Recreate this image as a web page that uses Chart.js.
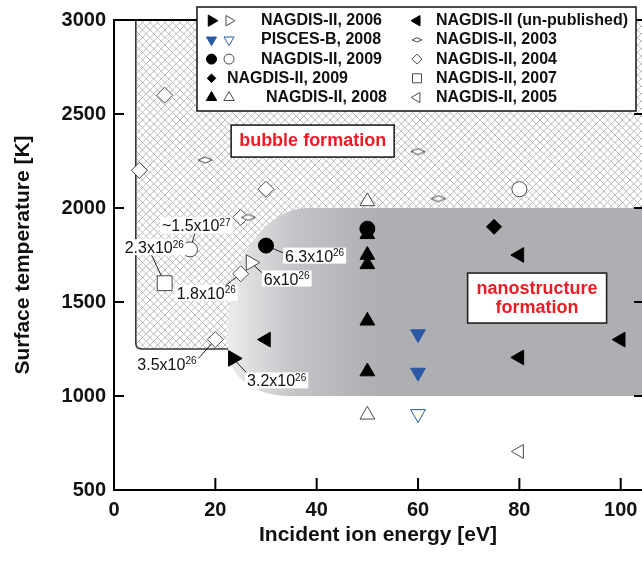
<!DOCTYPE html>
<html>
<head>
<meta charset="utf-8">
<script src="https://cdn.jsdelivr.net/npm/chart.js@4"></script>
<style>
  html, body { margin: 0; padding: 0; background: #fff; }
</style>
</head>
<body>
<canvas id="chart" width="642" height="563"></canvas>
<script>
const energyTicks = [0, 20, 40, 60, 80, 100];
const tempTicks = [500, 1000, 1500, 2000, 2500, 3000];

// NAGDIS-II, 2006
const n2006FilledE = [23.5];
const n2006FilledT = [1200];
const n2006OpenE = [27];
const n2006OpenT = [1710];
// PISCES-B, 2008
const piscesFilledE = [60, 60];
const piscesFilledT = [1330, 1125];
const piscesOpenE = [60];
const piscesOpenT = [905];
// NAGDIS-II, 2009 (circles)
const n2009FilledE = [30, 50];
const n2009FilledT = [1800, 1890];
const n2009OpenE = [15, 80];
const n2009OpenT = [1780, 2100];
// NAGDIS-II, 2009 (diamond)
const n2009DiaE = [75];
const n2009DiaT = [1900];
// NAGDIS-II, 2008
const n2008FilledE = [50, 50, 50, 50, 50];
const n2008FilledT = [1860, 1750, 1700, 1400, 1130];
const n2008OpenE = [50, 50];
const n2008OpenT = [2035, 900];
// NAGDIS-II (un-published)
const unpubE = [30, 80, 80, 100];
const unpubT = [1300, 1750, 1205, 1300];
// NAGDIS-II 2003 / 2004 / 2007 / 2005
const n2003E = [18, 60, 64, 26.5];
const n2003T = [2255, 2300, 2050, 1950];
const n2004E = [5, 10, 30, 25, 25, 20];
const n2004T = [2200, 2600, 2100, 1950, 1650, 1300];
const n2007E = [10];
const n2007T = [1600];
const n2005E = [80];
const n2005T = [705];

// ion flux notes next to some points
const fluxE = [15, 10, 30, 27, 25, 20, 23.5];
const fluxT = [1780, 1600, 1800, 1710, 1650, 1300, 1200];
const fluxMant = ['~1.5x10', '2.3x10', '6.3x10', '6x10', '1.8x10', '3.5x10', '3.2x10'];
const fluxExp = ['27', '26', '26', '26', '26', '26', '26'];

// regions (energy eV, temperature K)
const bubbleEdge = { e: 4.3, t: 1250 };
const nanoEdge = { e: 22.5, tLow: 1000, tHigh: 2000 };

const legendLabels = ['NAGDIS-II, 2006', 'PISCES-B, 2008', 'NAGDIS-II, 2009', 'NAGDIS-II, 2009', 'NAGDIS-II, 2008',
                      'NAGDIS-II (un-published)', 'NAGDIS-II, 2003', 'NAGDIS-II, 2004', 'NAGDIS-II, 2007', 'NAGDIS-II, 2005'];

// ---- layout / style ----
const FONT = '"Liberation Sans", Arial, Helvetica, sans-serif';
const BLUE = '#2b58a5';
const OPEN = '#4a4a4a';
const RED = '#ec1c24';

// label text offsets (px from point), leader end offsets
const fluxLayout = [
  { dx: -28, dy: -18, ax: 5, ay: -16 },
  { dx: -40, dy: -30, ax: -13, ay: -28 },
  { dx: 19, dy: 16, ax: 19, ay: 8 },
  { dx: 13, dy: 22, ax: 13, ay: 12 },
  { dx: -64, dy: 25, ax: -18, ay: 14 },
  { dx: -78, dy: 30, ax: -18, ay: 20 },
  { dx: 14, dy: 28, ax: 14, ay: 15 }
];

function pts(es, ts) { return es.map((e, i) => ({ x: e, y: ts[i] })); }

function flatDiamond() {
  const c = document.createElement('canvas');
  c.width = 16; c.height = 8;
  const g = c.getContext('2d');
  g.beginPath();
  g.moveTo(1, 4); g.lineTo(8, 1); g.lineTo(15, 4); g.lineTo(8, 7); g.closePath();
  g.fillStyle = '#fff'; g.fill();
  g.strokeStyle = OPEN; g.lineWidth = 1; g.stroke();
  return c;
}

function hatch(ctx) {
  const c = document.createElement('canvas');
  c.width = 15; c.height = 15;
  const g = c.getContext('2d');
  g.strokeStyle = '#b2b2b2';
  g.lineWidth = 0.9;
  for (const k of [-15, -7.5, 0, 7.5, 15]) {
    g.beginPath(); g.moveTo(k - 1, -1); g.lineTo(k + 16, 16); g.stroke();
    g.beginPath(); g.moveTo(k + 16, -1); g.lineTo(k - 1, 16); g.stroke();
  }
  return ctx.createPattern(c, 'repeat');
}

function marker(ctx, shape, x, y, r, fill, stroke) {
  ctx.beginPath();
  const tri = rot => {
    for (let i = 0; i < 3; i++) {
      const a = rot + i * 2 * Math.PI / 3;
      const px = x + Math.sin(a) * r, py = y - Math.cos(a) * r;
      if (i) ctx.lineTo(px, py); else ctx.moveTo(px, py);
    }
    ctx.closePath();
  };
  if (shape === 'up') tri(0);
  else if (shape === 'right') tri(Math.PI / 2);
  else if (shape === 'down') tri(Math.PI);
  else if (shape === 'left') tri(-Math.PI / 2);
  else if (shape === 'circle') ctx.arc(x, y, r, 0, 2 * Math.PI);
  else if (shape === 'diamond') { ctx.moveTo(x, y - r); ctx.lineTo(x + r, y); ctx.lineTo(x, y + r); ctx.lineTo(x - r, y); ctx.closePath(); }
  else if (shape === 'flat') { ctx.moveTo(x - r, y); ctx.lineTo(x, y - r * 0.45); ctx.lineTo(x + r, y); ctx.lineTo(x, y + r * 0.45); ctx.closePath(); }
  else if (shape === 'square') ctx.rect(x - r, y - r, 2 * r, 2 * r);
  if (fill) { ctx.fillStyle = fill; ctx.fill(); }
  if (stroke) { ctx.strokeStyle = stroke; ctx.lineWidth = 1; ctx.stroke(); }
}

function drawRegions(chart) {
  const { ctx, chartArea: a, scales: { x, y } } = chart;
  ctx.save();
  ctx.beginPath();
  ctx.rect(a.left, a.top, a.right - a.left, a.bottom - a.top);
  ctx.clip();

  // bubble formation: hatched
  const bx = x.getPixelForValue(bubbleEdge.e), by = y.getPixelForValue(bubbleEdge.t);
  const r = 6;
  ctx.beginPath();
  ctx.moveTo(bx, a.top);
  ctx.lineTo(bx, by - r);
  ctx.quadraticCurveTo(bx, by, bx + r, by);
  ctx.lineTo(a.right + 2, by);
  ctx.lineTo(a.right + 2, a.top);
  ctx.closePath();
  ctx.fillStyle = hatch(ctx);
  ctx.fill();
  ctx.beginPath();
  ctx.moveTo(bx, a.top);
  ctx.lineTo(bx, by - r);
  ctx.quadraticCurveTo(bx, by, bx + r, by);
  ctx.lineTo(a.right + 2, by);
  ctx.strokeStyle = '#333';
  ctx.lineWidth = 1.6;
  ctx.stroke();

  // nanostructure formation: grey with gradient
  const nl = x.getPixelForValue(nanoEdge.e);
  const nt = y.getPixelForValue(nanoEdge.tHigh);
  const nb = y.getPixelForValue(nanoEdge.tLow);
  const rx1 = 80, ry1 = 120, rx2 = 60, ry2 = 45;
  ctx.beginPath();
  ctx.moveTo(a.right + 2, nt);
  ctx.lineTo(nl + rx1, nt);
  ctx.ellipse(nl + rx1, nt + ry1, rx1, ry1, 0, -Math.PI / 2, -Math.PI, true);
  ctx.lineTo(nl, nb - ry2);
  ctx.ellipse(nl + rx2, nb - ry2, rx2, ry2, 0, Math.PI, Math.PI / 2, true);
  ctx.lineTo(a.right + 2, nb);
  ctx.closePath();
  const grad = ctx.createLinearGradient(nl, 0, x.getPixelForValue(52), 0);
  grad.addColorStop(0, '#ebebed');
  grad.addColorStop(0.45, '#c3c4c7');
  grad.addColorStop(1, '#adafb2');
  ctx.fillStyle = grad;
  ctx.fill();
  ctx.restore();
}

function drawLeaders(chart) {
  const { ctx, scales: { x, y } } = chart;
  ctx.save();
  ctx.strokeStyle = '#222';
  ctx.lineWidth = 1;
  fluxE.forEach((e, i) => {
    const px = x.getPixelForValue(e), py = y.getPixelForValue(fluxT[i]);
    const l = fluxLayout[i];
    ctx.beginPath();
    ctx.moveTo(px, py);
    ctx.lineTo(px + l.ax, py + l.ay);
    ctx.stroke();
  });
  ctx.restore();
}

function drawFrame(chart) {
  const { ctx, chartArea: a, scales: { x, y } } = chart;
  ctx.save();
  ctx.strokeStyle = '#000';
  ctx.lineWidth = 2;
  ctx.beginPath();
  ctx.moveTo(a.right + 2, a.top);
  ctx.lineTo(a.left, a.top);
  ctx.lineTo(a.left, a.bottom);
  ctx.lineTo(a.right + 2, a.bottom);
  ctx.stroke();
  ctx.beginPath();
  tempTicks.forEach(t => {
    const py = y.getPixelForValue(t);
    ctx.moveTo(a.left, py); ctx.lineTo(a.left + 10, py);
    ctx.moveTo(a.right - 8, py); ctx.lineTo(a.right + 2, py);
  });
  energyTicks.forEach(e => {
    const px = x.getPixelForValue(e);
    ctx.moveTo(px, a.bottom); ctx.lineTo(px, a.bottom - 12);
  });
  ctx.stroke();
  ctx.restore();
}

function boxText(ctx, cx, cy, w, h, lines) {
  ctx.fillStyle = '#fff';
  ctx.fillRect(cx - w / 2, cy - h / 2, w, h);
  ctx.strokeStyle = '#222';
  ctx.lineWidth = 1.6;
  ctx.strokeRect(cx - w / 2, cy - h / 2, w, h);
  ctx.fillStyle = RED;
  ctx.font = 'bold 18px ' + FONT;
  ctx.textAlign = 'center';
  ctx.textBaseline = 'middle';
  const lh = 19;
  lines.forEach((s, i) => ctx.fillText(s, cx, cy + (i - (lines.length - 1) / 2) * lh));
}

function drawRegionLabels(chart) {
  const { ctx, scales: { x, y } } = chart;
  ctx.save();
  boxText(ctx, x.getPixelForValue(39.2), y.getPixelForValue(2356), 163, 32, ['bubble formation']);
  boxText(ctx, x.getPixelForValue(83.5), y.getPixelForValue(1521), 139, 50, ['nanostructure', 'formation']);
  ctx.restore();
}

function drawFluxLabels(chart) {
  const { ctx, scales: { x, y } } = chart;
  ctx.save();
  ctx.textAlign = 'left';
  ctx.textBaseline = 'alphabetic';
  fluxE.forEach((e, i) => {
    const px = x.getPixelForValue(e), py = y.getPixelForValue(fluxT[i]);
    const l = fluxLayout[i];
    const tx = px + l.dx, ty = py + l.dy;
    ctx.font = '16px ' + FONT;
    const w1 = ctx.measureText(fluxMant[i]).width;
    ctx.font = '10px ' + FONT;
    const w2 = ctx.measureText(fluxExp[i]).width;
    ctx.fillStyle = '#fff';
    ctx.fillRect(tx - 2, ty - 14, w1 + w2 + 4, 16);
    ctx.fillStyle = '#111';
    ctx.font = '16px ' + FONT;
    ctx.fillText(fluxMant[i], tx, ty);
    ctx.font = '10px ' + FONT;
    ctx.fillText(fluxExp[i], tx + w1, ty - 5.5);
  });
  ctx.restore();
}

function drawLegend(chart) {
  const { ctx } = chart;
  ctx.save();
  ctx.fillStyle = '#fff';
  ctx.fillRect(197, 7, 439, 104);
  ctx.strokeStyle = '#111';
  ctx.lineWidth = 1.5;
  ctx.strokeRect(197, 7, 439, 104);

  const rowY = i => 20.7 + i * 19.2;
  const c1 = 211.5, c1o = 229, c2 = 417;
  marker(ctx, 'right', c1, rowY(0), 6.5, '#000', '#000');
  marker(ctx, 'right', c1o, rowY(0), 6, '#fff', OPEN);
  marker(ctx, 'down', c1, rowY(1), 5.8, BLUE, BLUE);
  marker(ctx, 'down', c1o, rowY(1), 5.8, '#fff', BLUE);
  marker(ctx, 'circle', c1, rowY(2), 5, '#000', '#000');
  marker(ctx, 'circle', c1o, rowY(2), 5, '#fff', OPEN);
  marker(ctx, 'diamond', c1, rowY(3), 4.3, '#000', '#000');
  marker(ctx, 'up', c1, rowY(4), 6, '#000', '#000');
  marker(ctx, 'up', c1o, rowY(4), 6, '#fff', OPEN);
  marker(ctx, 'left', c2, rowY(0), 6, '#000', '#000');
  marker(ctx, 'flat', c2, rowY(1), 4.8, '#fff', OPEN);
  marker(ctx, 'diamond', c2, rowY(2), 5, '#fff', OPEN);
  marker(ctx, 'square', c2, rowY(3), 4.5, '#fff', OPEN);
  marker(ctx, 'left', c2, rowY(4), 5.8, '#fff', OPEN);

  ctx.font = 'bold 16px ' + FONT;
  ctx.fillStyle = '#111';
  ctx.textAlign = 'left';
  ctx.textBaseline = 'middle';
  const tx = [261, 261, 261, 227, 266];
  for (let i = 0; i < 5; i++) {
    ctx.fillText(legendLabels[i], tx[i], rowY(i));
    ctx.fillText(legendLabels[i + 5], 436, rowY(i));
  }
  ctx.restore();
}

const decorPlugin = {
  id: 'decor',
  beforeDatasetsDraw(chart) {
    drawRegions(chart);
    drawLeaders(chart);
  },
  afterDatasetsDraw(chart) {
    drawFrame(chart);
    drawRegionLabels(chart);
    drawFluxLabels(chart);
    drawLegend(chart);
  }
};

function ds(label, data, style, rot, radius, fill, stroke) {
  return {
    label: label,
    data: data,
    pointStyle: style,
    pointRotation: rot,
    pointRadius: radius,
    pointHoverRadius: radius,
    pointBackgroundColor: fill,
    pointBorderColor: stroke,
    pointBorderWidth: 1
  };
}

const flat = flatDiamond();

new Chart(document.getElementById('chart'), {
  type: 'scatter',
  data: {
    datasets: [
      ds('NAGDIS-II, 2006', pts(n2006FilledE, n2006FilledT), 'triangle', 90, 9, '#000', '#000'),
      ds('NAGDIS-II, 2006 open', pts(n2006OpenE, n2006OpenT), 'triangle', 90, 9, '#fff', OPEN),
      ds('PISCES-B, 2008', pts(piscesFilledE, piscesFilledT), 'triangle', 180, 8.5, BLUE, BLUE),
      ds('PISCES-B, 2008 open', pts(piscesOpenE, piscesOpenT), 'triangle', 180, 8.5, '#fff', BLUE),
      ds('NAGDIS-II, 2009', pts(n2009FilledE, n2009FilledT), 'circle', 0, 7.5, '#000', '#000'),
      ds('NAGDIS-II, 2009 open', pts(n2009OpenE, n2009OpenT), 'circle', 0, 7.5, '#fff', OPEN),
      ds('NAGDIS-II, 2009 diamond', pts(n2009DiaE, n2009DiaT), 'rectRot', 0, 7.5, '#000', '#000'),
      ds('NAGDIS-II, 2008', pts(n2008FilledE, n2008FilledT), 'triangle', 0, 8.5, '#000', '#000'),
      ds('NAGDIS-II, 2008 open', pts(n2008OpenE, n2008OpenT), 'triangle', 0, 8.5, '#fff', OPEN),
      ds('NAGDIS-II (un-published)', pts(unpubE, unpubT), 'triangle', 270, 8.5, '#000', '#000'),
      ds('NAGDIS-II, 2003', pts(n2003E, n2003T), flat, 0, 8, '#fff', OPEN),
      ds('NAGDIS-II, 2004', pts(n2004E, n2004T), 'rectRot', 0, 8, '#fff', OPEN),
      ds('NAGDIS-II, 2007', pts(n2007E, n2007T), 'rect', 0, 10.5, '#fff', OPEN),
      ds('NAGDIS-II, 2005', pts(n2005E, n2005T), 'triangle', 270, 8, '#fff', OPEN)
    ]
  },
  options: {
    responsive: false,
    devicePixelRatio: 1,
    animation: false,
    events: [],
    layout: { autoPadding: false, padding: { top: 20, right: 0, bottom: 0, left: 0 } },
    plugins: { legend: { display: false }, tooltip: { enabled: false } },
    scales: {
      x: {
        type: 'linear',
        min: 0,
        max: 104.2,
        afterBuildTicks: s => { s.ticks = energyTicks.map(v => ({ value: v })); },
        afterFit: s => { s.height = 73; s.paddingLeft = 0; s.paddingRight = 0; },
        grid: { display: false, drawTicks: false },
        border: { display: false },
        ticks: { color: '#111', font: { family: FONT, size: 20, weight: 'bold' }, padding: 8, maxRotation: 0,
                 callback: v => String(v) },
        title: { display: true, text: 'Incident ion energy [eV]', color: '#111',
                 font: { family: FONT, size: 21, weight: 'bold' }, padding: { top: 0, bottom: 15 } }
      },
      y: {
        type: 'linear',
        min: 500,
        max: 3000,
        afterBuildTicks: s => { s.ticks = tempTicks.map(v => ({ value: v })); },
        afterFit: s => { s.width = 114; s.paddingTop = 0; s.paddingBottom = 0; },
        grid: { display: false, drawTicks: false },
        border: { display: false },
        ticks: { color: '#111', font: { family: FONT, size: 20, weight: 'bold' }, padding: 8,
                 callback: v => String(v) },
        title: { display: true, text: 'Surface temperature [K]', color: '#111',
                 font: { family: FONT, size: 21, weight: 'bold' }, padding: { top: 11, bottom: 0 } }
      }
    }
  },
  plugins: [decorPlugin]
});
</script>
</body>
</html>
